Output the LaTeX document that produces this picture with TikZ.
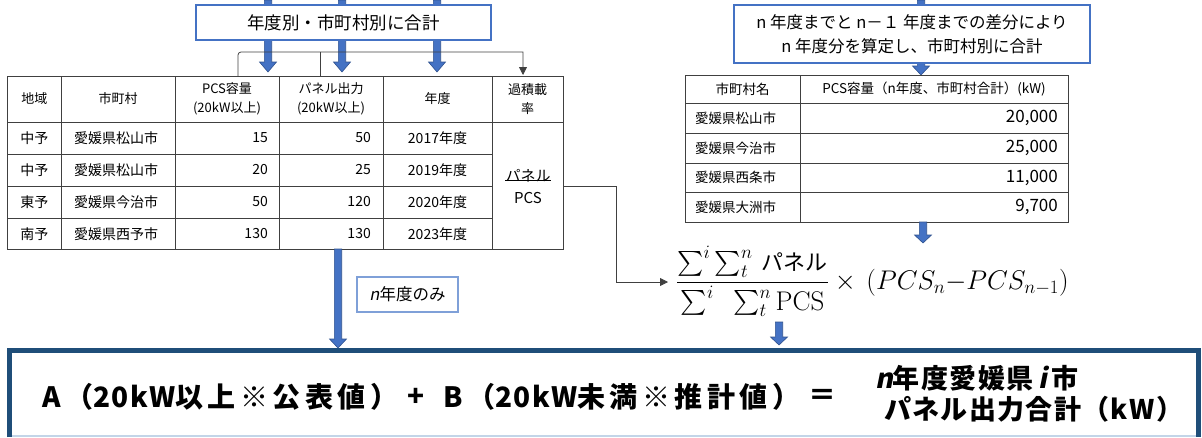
\RequirePackage{fix-cm}
\documentclass[tikz,border=0pt]{standalone}
\usepackage[no-math]{fontspec}
\usepackage{amsmath}
\setmainfont{Noto Sans CJK JP}
\newfontfamily\jpit[FakeSlant=0.2]{Noto Sans CJK JP}
\newfontfamily\bigjp[LetterSpace=16]{Noto Sans CJK JP}
\newfontfamily\midjp[LetterSpace=5]{Noto Sans CJK JP}
\newfontfamily\bigjpit[LetterSpace=5,FakeSlant=0.2]{Noto Sans CJK JP}
\usetikzlibrary{arrows.meta,calc}
\definecolor{arrowblue}{HTML}{4472C4}
\definecolor{arrowedge}{HTML}{2F528F}
\definecolor{boxblue}{HTML}{4472C4}
\definecolor{lightboxblue}{HTML}{7FA0D8}
\definecolor{navy}{HTML}{1F4E79}
\definecolor{lightline}{HTML}{C3D5E8}
\newcommand\fsz[2]{\fontsize{#1}{#2}\selectfont}
\tikzset{
  blockarrow/.style={fill=arrowblue, draw=arrowedge, line width=0.6pt, to path={
    let \p1=(\tikztostart), \p2=(\tikztotarget) in
    (\x1-3.7pt,\y1) -- (\x1+3.7pt,\y1) -- (\x1+3.7pt,\y2+#1) -- (\x1+8.5pt,\y2+#1)
    -- (\x1,\y2) -- (\x1-8.5pt,\y2+#1) -- (\x1-3.7pt,\y2+#1) -- cycle}},
  blockarrow/.default=9pt,
  grid/.style={draw=black!75, line width=0.8pt},
  conn/.style={draw=black!75, line width=0.8pt},
  tip/.style={-{Triangle[width=8pt,length=8pt]}},
  bluebox/.style={draw=boxblue, line width=1.1pt, fill=white, inner sep=0pt},
  cell/.style={inner sep=0pt, font=\fsz{14}{16}},
  hcell/.style={inner sep=0pt, align=center, font=\fsz{13}{19}},
  rcell/.style={inner sep=0pt, font=\fsz{13.5}{16}},
  rnum/.style={inner sep=0pt, font=\fsz{17}{20}},
  big/.style={inner sep=0pt, font=\bigjp\bfseries\fsz{28}{32}},
  bigr/.style={inner sep=0pt, font=\midjp\bfseries\fsz{27}{32}}
}
\begin{document}
\begin{tikzpicture}[x=1pt,y=-1pt]
\useasboundingbox (0,0) rectangle (1202,437);

% ---------- blue arrows (behind boxes) ----------
\coordinate (a1s) at (268,0);   \coordinate (a1e) at (268,72);
\coordinate (a2s) at (342,0);   \coordinate (a2e) at (342,72);
\coordinate (a3s) at (437,0);   \coordinate (a3e) at (437,72);
\coordinate (a4s) at (921,0);   \coordinate (a4e) at (921,75);
\draw[blockarrow=10pt] (a1s) to (a1e);
\draw[blockarrow=10pt] (a2s) to (a2e);
\draw[blockarrow=10pt] (a3s) to (a3e);
\draw[blockarrow=9pt] (a4s) to (a4e);

% ---------- top boxes ----------
\node[bluebox, minimum width=295pt, minimum height=35pt, font=\fsz{17.5}{20}] (sumbox) at (343.5,22.5) {年度別・市町村別に合計};
\node[bluebox, minimum width=356pt, minimum height=58pt, align=center, font=\fsz{16.5}{24}] (diffbox) at (912,34)
  {n 年度までと n－１ 年度までの差分により\\n 年度分を算定し、市町村別に合計};

% ---------- bracket above left table ----------
\coordinate (bl) at (238,76);
\coordinate (bm) at (320,76);
\coordinate (br) at (523,75);
\draw[conn, tip] (bl) [rounded corners=3pt] -- (238,52) [sharp corners] -- (523,52) -- (br);
\draw[conn] (bm) -- (320,52);

% ---------- left table ----------
\draw[grid] (7,76) rectangle (563,249);
\foreach \x in {61.5,175,279,383,492} \draw[grid] (\x,76) -- (\x,249);
\foreach \y in {122,154,186,218} \draw[grid] (7,\y) -- (492,\y);
\draw[grid] (492,122) -- (563,122);

\node[hcell] (h1) at (34.25,99) {地域};
\node[hcell] (h2) at (118,99) {市町村};
\node[hcell] (h3) at (227,99) {PCS容量\\(20kW以上)};
\node[hcell] (h4) at (331,99) {パネル出力\\(20kW以上)};
\node[hcell] (h5) at (437.5,99) {年度};
\node[hcell] (h6) at (527.5,99) {過積載\\率};

\foreach \y/\reg/\city/\pcs/\pan/\yr [count=\i] in
  {138/中予/愛媛県松山市/15/50/2017年度,
   170/中予/愛媛県松山市/20/25/2019年度,
   202/東予/愛媛県今治市/50/120/2020年度,
   234/南予/愛媛県西予市/130/130/2023年度}{
  \node[cell] (reg\i) at (34.25,\y) {\reg};
  \node[cell, anchor=west] (city\i) at (74,\y) {\city};
  \node[cell, anchor=east] (pcs\i) at (268,\y) {\pcs};
  \node[cell, anchor=east] (pan\i) at (371,\y) {\pan};
  \node[cell] (yr\i) at (437.5,\y) {\yr};
}
\node[inner sep=0pt, font=\fsz{15}{17}] (ratnum) at (528,176) {パネル};
\node[inner sep=0pt, font=\fsz{15}{17}] (ratden) at (528,198) {PCS};
\draw[black, line width=0.8pt] ($(ratnum.south west)+(0,-2)$) -- ($(ratnum.south east)+(0,-2)$);

% ---------- right table ----------
\draw[grid] (685,75) rectangle (1068,222);
\draw[grid] (800,75) -- (800,222);
\foreach \y in {103,133,163,192} \draw[grid] (685,\y) -- (1068,\y);
\node[rcell] (rh1) at (742.5,89) {市町村名};
\node[rcell, font=\fsz{13.5}{15}] (rh2) at (934,89) {PCS容量（n年度、市町村合計）(kW)};
\foreach \y/\city/\val [count=\i] in
  {118/愛媛県松山市/20{,}000, 148/愛媛県今治市/25{,}000,
   177.5/愛媛県西条市/11{,}000, 207/愛媛県大洲市/9{,}700}{
  \node[rcell, anchor=west] (rc\i) at (695,\y) {\city};
  \node[rnum, anchor=east] (rv\i) at (1058,\y) {\val};
}

% ---------- arrows below tables ----------
\coordinate (a5s) at (923,222);  \coordinate (a5e) at (923,243);
\draw[blockarrow=8pt] (a5s) to (a5e);
\coordinate (a6s) at (338,249);  \coordinate (a6e) at (338,348);
\draw[blockarrow=9pt] (a6s) to (a6e);

% ---------- n-year-only label ----------
\node[draw=lightboxblue, line width=1.1pt, fill=white, minimum width=101pt, minimum height=35pt, inner sep=0pt,
      font=\fsz{16.5}{18}] (nonly) at (407.5,294.5) {{\jpit n}年度のみ};

% ---------- formula ----------
\node[anchor=base west, inner sep=0pt] (frm) at (676,289)
  {\fsz{27}{31}$\dfrac{\sum^i \sum_t^n\, \mbox{\fsz{22}{26}パネル}\rule[-4pt]{0pt}{4pt}}{\sum^i\;\; \sum_t^n \mathrm{PCS}} \times\, \left(PCS_n{-}PCS_{n-1}\right)$};
\coordinate (tblE) at (563,186);
\coordinate (frmin) at (668,282);
\draw[conn, tip] (tblE) -- (616,186) -- (616,282) -- (frmin);

\coordinate (a7s) at (779,322);  \coordinate (a7e) at (779,345);
\draw[blockarrow=8pt] (a7s) to (a7e);

% ---------- bottom result box ----------
\draw[lightline, line width=2pt] (12,435.5) -- (1196,435.5);
\draw[navy, line width=5pt] (9.5,437) -- (9.5,350.5) -- (1198.5,350.5) -- (1198.5,437);

\node[big, anchor=west] (fa) at (42,397) {A（{\midjp 20kW}以上※公表値）};
\node[big] (fplus) at (416,397) {+};
\node[big, anchor=west] (fb) at (443,397) {B（{\midjp 20kW}未満※推計値）};
\node[big] (feq) at (822,397) {＝};
\node[bigr, anchor=west] (fr1) at (875,378) {{\bigjpit n}年度愛媛県\hspace{5pt}{\bigjpit i}\hspace{4pt}市};
\node[bigr, anchor=west] (fr2) at (884,409) {パネル出力合計（kW）};
\end{tikzpicture}
\end{document}
